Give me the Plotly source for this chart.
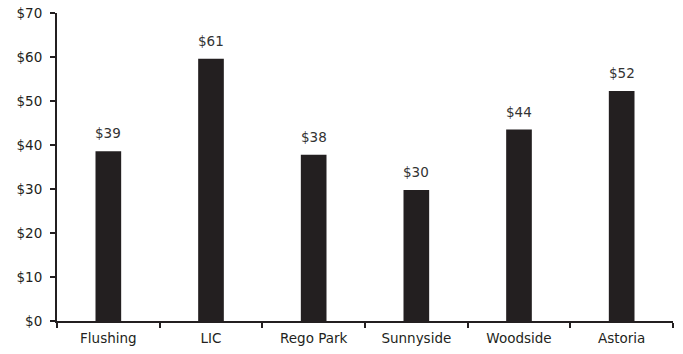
import plotly.graph_objects as go

categories = ["Flushing", "LIC", "Rego Park", "Sunnyside", "Woodside", "Astoria"]
values = [38.6, 59.6, 37.8, 29.8, 43.5, 52.3]
labels = ["$39", "$61", "$38", "$30", "$44", "$52"]
y_ticks = [0, 10, 20, 30, 40, 50, 60, 70]
y_tick_labels = ["$0", "$10", "$20", "$30", "$40", "$50", "$60", "$70"]

FONT = "DejaVu Sans, sans-serif"
INK = "#231f20"
FS = 13.5

fig = go.Figure()
fig.add_trace(go.Bar(
    x=categories, y=values,
    marker=dict(color=INK, line=dict(width=0)),
    width=0.25,
    hoverinfo="skip",
))

for c, v, t in zip(categories, values, labels):
    fig.add_annotation(
        x=c, y=v, text=t, showarrow=False,
        yanchor="bottom", yshift=8,
        font=dict(family=FONT, size=FS, color="#333333"),
    )

fig.update_layout(
    width=683, height=354,
    margin=dict(l=57, r=10, t=13, b=33),
    paper_bgcolor="white", plot_bgcolor="white",
    showlegend=False,
    font=dict(family=FONT, size=FS, color=INK),
)
fig.update_xaxes(
    automargin=False,
    showline=True, linecolor=INK, linewidth=2,
    ticks="outside", tickson="boundaries", ticklen=5, tickwidth=2, tickcolor=INK,
    ticklabelstandoff=4,
    showgrid=False, zeroline=False,
    tickfont=dict(family=FONT, size=FS, color=INK),
)
fig.update_yaxes(
    automargin=False,
    range=[0, 70], tickvals=y_ticks, ticktext=y_tick_labels,
    showline=True, linecolor=INK, linewidth=2,
    ticks="outside", ticklen=5, tickwidth=2, tickcolor=INK,
    ticklabelstandoff=5,
    showgrid=False, zeroline=False,
    tickfont=dict(family=FONT, size=FS, color=INK),
)

fig.write_html("out.html", config={"displayModeBar": False},
               post_script="document.body.style.margin='0px';")
